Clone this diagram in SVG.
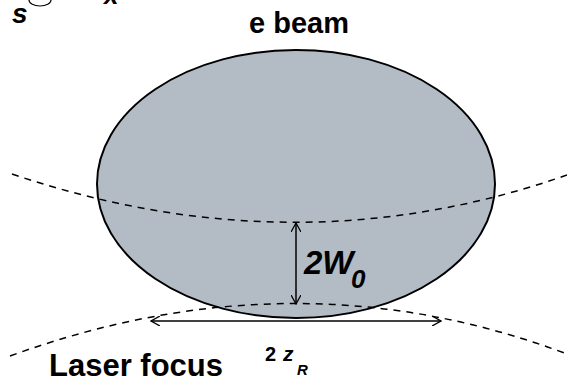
<svg xmlns="http://www.w3.org/2000/svg" width="567" height="380" viewBox="0 0 567 380">
<defs>
<style>
.t{font-family:"Liberation Sans",Arial,sans-serif;font-weight:bold;fill:#000}
.d{fill:none;stroke:#000;stroke-width:1.5;stroke-dasharray:7,6}
.a{fill:none;stroke:#000;stroke-width:1.5}
</style>
<marker id="ah" viewBox="0 0 10 10" refX="9" refY="5" markerWidth="10" markerHeight="10" markerUnits="userSpaceOnUse" orient="auto-start-reverse">
<path d="M0,0 L9,5 L0,10" fill="none" stroke="#000" stroke-width="1.3"/>
</marker>
</defs>
<rect width="567" height="380" fill="#fff"/>
<g id="header">
<text class="t" x="12" y="23" font-size="28" font-style="italic">s</text>
<path d="M29,0 A11,6 0 0 0 51,0" fill="none" stroke="#000" stroke-width="1.2"/>
<text class="t" x="104" y="4" font-size="26" font-style="italic">x</text>
</g>
<g id="ebeam">
<ellipse cx="296" cy="184" rx="199" ry="134" fill="#b3bcc5" stroke="#000" stroke-width="2"/>
<text class="t" x="299" y="33" font-size="29" text-anchor="middle">e beam</text>
</g>
<g id="connectors">
<path class="d" d="M12,174 Q296,270 567,175"/>
<path class="d" d="M10,356 Q296,252 567,354"/>
<line class="a" x1="296" y1="223" x2="296" y2="304" marker-start="url(#ah)" marker-end="url(#ah)"/>
<line class="a" x1="151" y1="321" x2="441" y2="321" marker-start="url(#ah)" marker-end="url(#ah)"/>
</g>
<g id="waist">
<text class="t" x="304" y="274" font-size="33" font-style="italic">2W</text>
<text class="t" x="351" y="288" font-size="26" font-style="italic">0</text>
</g>
<g id="laser">
<text class="t" x="49" y="376" font-size="31">Laser focus</text>
<text class="t" x="265" y="361" font-size="20">2</text>
<text class="t" x="283" y="361" font-size="21" font-style="italic">z</text>
<text class="t" x="297" y="375" font-size="15" font-style="italic">R</text>
</g>
</svg>
